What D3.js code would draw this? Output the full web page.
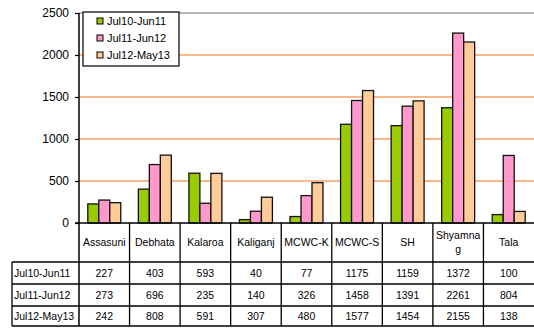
<!DOCTYPE html>
<html>
<head>
<meta charset="utf-8">
<script src="https://cdn.jsdelivr.net/npm/d3@7"></script>
<style>
  html, body { margin: 0; padding: 0; background: #fff; }
  svg { display: block; font-family: "Liberation Sans", Arial, sans-serif; }
</style>
</head>
<body>
<svg id="chart" width="534" height="331"></svg>
<script>
// Clinic categories and the three reporting periods
const categories = ["Assasuni", "Debhata", "Kalaroa", "Kaliganj", "MCWC-K", "MCWC-S", "SH", "Shyamnag", "Tala"];
const headerLines = [["Assasuni"], ["Debhata"], ["Kalaroa"], ["Kaliganj"], ["MCWC-K"], ["MCWC-S"], ["SH"], ["Shyamna", "g"], ["Tala"]];
const seriesNames = ["Jul10-Jun11", "Jul11-Jun12", "Jul12-May13"];
const jul10Jun11 = [227, 403, 593, 40, 77, 1175, 1159, 1372, 100];
const jul11Jun12 = [273, 696, 235, 140, 326, 1458, 1391, 2261, 804];
const jul12May13 = [242, 808, 591, 307, 480, 1577, 1454, 2155, 138];
const yTicks = [0, 500, 1000, 1500, 2000, 2500];

const seriesValues = [jul10Jun11, jul11Jun12, jul12May13];
const colors = ["#99CC00", "#FF99CC", "#FFCC99"];

const svg = d3.select("#chart");
const plotLeft = 79, plotRight = 534, plotTop = 13, plotBottom = 223, tableBottom = 326;

const x = d3.scaleBand().domain(categories).range([plotLeft, plotRight]);
const xs = d3.scaleBand().domain(seriesNames).range([8.8, x.bandwidth() - 8.8]);
const y = d3.scaleLinear().domain([0, 2500]).range([plotBottom, plotTop]);

// Horizontal gridlines
svg.append("g").selectAll("line").data(yTicks.filter(d => d > 0)).join("line")
  .attr("x1", plotLeft).attr("x2", plotRight)
  .attr("y1", d => y(d)).attr("y2", d => y(d))
  .attr("stroke", d => d === 2500 ? "#a0a0a0" : "#F9A060")
  .attr("stroke-width", 1.5);

// Bars
const groups = svg.append("g").selectAll("g").data(categories).join("g")
  .attr("transform", d => `translate(${x(d)},0)`);
groups.selectAll("rect")
  .data((c, i) => seriesNames.map((s, j) => ({ s, v: seriesValues[j][i], j })))
  .join("rect")
  .attr("x", d => xs(d.s))
  .attr("width", xs.bandwidth())
  .attr("y", d => y(d.v))
  .attr("height", d => y(0) - y(d.v))
  .attr("fill", d => colors[d.j])
  .attr("stroke", "#111")
  .attr("stroke-width", 1.3);

// Y axis
const yAxis = d3.axisLeft(y).tickValues(yTicks).tickSize(4).tickPadding(6).tickFormat(d3.format("d"));
const ya = svg.append("g").attr("transform", `translate(${plotLeft},0)`).call(yAxis);
ya.select(".domain").remove();
ya.selectAll("line").attr("stroke", "#000").attr("stroke-width", 1.2);
ya.selectAll("text").attr("font-size", 12).attr("fill", "#000")
  .attr("font-family", "Liberation Sans, Arial, sans-serif");
svg.append("line").attr("x1", plotLeft).attr("x2", plotLeft).attr("y1", plotTop).attr("y2", tableBottom)
  .attr("stroke", "#000").attr("stroke-width", 1.5);
svg.append("line").attr("x1", plotLeft - 4).attr("x2", plotRight).attr("y1", plotBottom).attr("y2", plotBottom)
  .attr("stroke", "#000").attr("stroke-width", 1.5);

// Legend
const lg = svg.append("g");
lg.append("rect").attr("x", 83).attr("y", 12).attr("width", 96).attr("height", 54)
  .attr("fill", "#fff").attr("stroke", "#000").attr("stroke-width", 1.2);
seriesNames.forEach((s, j) => {
  const cy = 21 + j * 17;
  lg.append("rect").attr("x", 97).attr("y", cy - 3).attr("width", 6).attr("height", 6)
    .attr("fill", colors[j]).attr("stroke", "#000").attr("stroke-width", 1);
  lg.append("text").attr("x", 107).attr("y", cy).attr("dy", "0.35em")
    .attr("font-size", 11).text(s);
});

// Data table
const rowTops = [262, 284, 306, tableBottom];
const tbl = svg.append("g");
categories.forEach((c, i) => {
  if (i > 0) tbl.append("line").attr("x1", x(c)).attr("x2", x(c)).attr("y1", plotBottom).attr("y2", tableBottom)
    .attr("stroke", "#000").attr("stroke-width", 1.3);
});
tbl.append("line").attr("x1", 12).attr("x2", 12).attr("y1", 262).attr("y2", tableBottom)
  .attr("stroke", "#000").attr("stroke-width", 1.3);
rowTops.forEach(ry => {
  tbl.append("line").attr("x1", 12).attr("x2", plotRight).attr("y1", ry).attr("y2", ry)
    .attr("stroke", "#000").attr("stroke-width", 1.5);
});
// header labels
categories.forEach((c, i) => {
  const lines = headerLines[i];
  const cx = x(c) + x.bandwidth() / 2;
  const t = tbl.append("text").attr("text-anchor", "middle").attr("font-size", 10.5);
  lines.forEach((ln, k) => {
    t.append("tspan").attr("x", cx)
      .attr("y", lines.length === 1 ? 246 : 239 + k * 14).text(ln);
  });
});
// value rows
seriesNames.forEach((s, j) => {
  const cy = (rowTops[j] + rowTops[j + 1]) / 2 + 4;
  tbl.append("text").attr("x", 14).attr("y", cy).attr("font-size", 10.5).text(s);
  categories.forEach((c, i) => {
    tbl.append("text").attr("x", x(c) + x.bandwidth() / 2).attr("y", cy)
      .attr("text-anchor", "middle").attr("font-size", 10.5).text(seriesValues[j][i]);
  });
});
</script>
</body>
</html>
